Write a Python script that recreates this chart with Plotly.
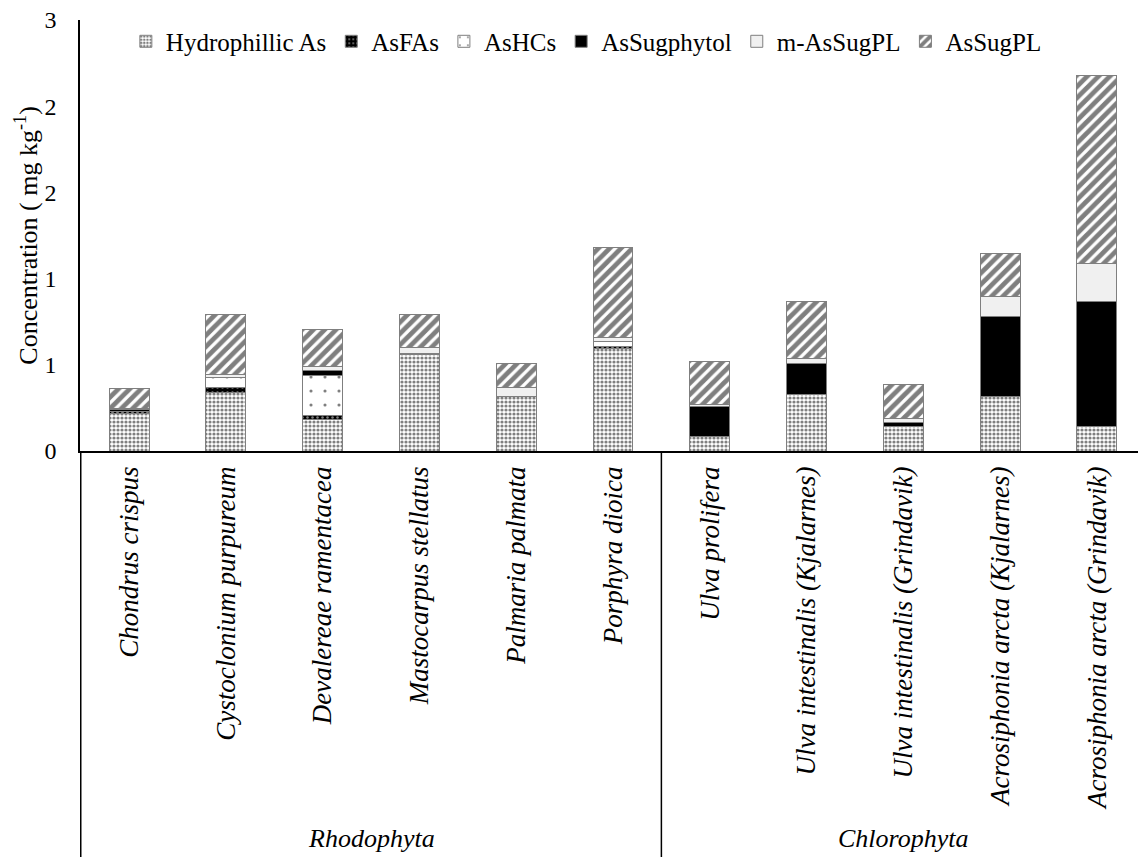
import plotly.graph_objects as go

# ---- data (mg kg-1) ----
categories = [
    "Chondrus crispus", "Cystoclonium purpureum", "Devalereae ramentacea",
    "Mastocarpus stellatus", "Palmaria palmata", "Porphyra dioica",
    "Ulva prolifera", "Ulva intestinalis (Kjalarnes)", "Ulva intestinalis (Grindavik)",
    "Acrosiphonia arcta (Kjalarnes)", "Acrosiphonia arcta (Grindavik)",
]
groups = ["Rhodophyta"] * 6 + ["Chlorophyta"] * 5

hydrophillic_as = [0.216, 0.338, 0.184, 0.561, 0.319, 0.596, 0.083, 0.329, 0.141, 0.315, 0.145]
as_fas          = [0.012, 0.033, 0.020, 0.005, 0.000, 0.008, 0.000, 0.000, 0.000, 0.000, 0.000]
as_hcs          = [0.000, 0.054, 0.232, 0.000, 0.000, 0.034, 0.000, 0.000, 0.000, 0.000, 0.000]
as_sugphytol    = [0.012, 0.000, 0.029, 0.000, 0.000, 0.000, 0.178, 0.178, 0.023, 0.464, 0.721]
m_as_sug_pl     = [0.005, 0.020, 0.023, 0.037, 0.048, 0.023, 0.010, 0.029, 0.025, 0.116, 0.220]
as_sug_pl       = [0.116, 0.344, 0.217, 0.186, 0.143, 0.522, 0.251, 0.329, 0.197, 0.251, 1.094]

y_tickvals = [0, 0.5, 1.0, 1.5, 2.0, 2.5]
y_ticktext = ["0", "1", "1", "2", "2", "3"]
y_title = "Concentration ( mg kg<sup>-1</sup>)"

FONT = "Times New Roman"
OUTLINE = dict(color="#7f7f7f", width=1)

series = [
    ("Hydrophillic As", hydrophillic_as, dict(color="white", pattern=dict(shape=".", fgcolor="black", bgcolor="white", size=4, solidity=0.5))),
    ("AsFAs", as_fas, dict(color="black", pattern=dict(shape=".", fgcolor="white", bgcolor="black", size=5, solidity=0.2))),
    ("AsHCs", as_hcs, dict(color="white", pattern=dict(shape=".", fgcolor="black", bgcolor="white", size=14, solidity=0.04))),
    ("AsSugphytol", as_sugphytol, dict(color="black")),
    ("m-AsSugPL", m_as_sug_pl, dict(color="#f0f0f0")),
    ("AsSugPL", as_sug_pl, dict(color="white", pattern=dict(shape="/", fgcolor="black", bgcolor="white", size=8, solidity=0.6))),
]

fig = go.Figure()
for name, vals, mk in series:
    marker = dict(mk)
    marker["line"] = OUTLINE
    fig.add_trace(go.Bar(name=name, x=categories, y=vals, marker=marker))

# group dividers and labels below the category axis
n = len(categories)
bounds = [-0.5]
for i in range(1, n):
    if groups[i] != groups[i - 1]:
        bounds.append(i - 0.5)
bounds.append(n - 0.5)

for b in bounds:
    fig.add_shape(type="line", xref="x", yref="paper", x0=b, x1=b, y0=0, y1=-0.945,
                  line=dict(color="black", width=1.5))

start = 0
for i in range(1, n + 1):
    if i == n or groups[i] != groups[start]:
        fig.add_annotation(x=(start + i - 1) / 2, y=-0.898, xref="x", yref="paper",
                           text=groups[start], showarrow=False, yanchor="middle",
                           font=dict(family=FONT, size=26, color="black", style="italic"))
        start = i

# y-axis title as a rotated annotation
fig.add_annotation(x=-0.0505, y=0.50, xref="paper", yref="paper", text=y_title,
                   textangle=-90, showarrow=False, xanchor="center", yanchor="middle",
                   font=dict(family=FONT, size=26, color="black"))

# the page body adds an 8px margin, so the figure is sized to fit the window
fig.update_layout(
    width=1138, height=849,
    margin=dict(l=72, r=0, t=12, b=406, autoexpand=False),
    paper_bgcolor="white", plot_bgcolor="white",
    barmode="stack", bargap=0.587,
    font=dict(family=FONT, color="black"),
    legend=dict(orientation="h", x=0.475, xanchor="center", y=0.95, yanchor="middle",
                font=dict(family=FONT, size=25, color="black"),
                bgcolor="rgba(0,0,0,0)", traceorder="normal", itemwidth=30),
    showlegend=True,
)
fig.update_xaxes(
    type="category", showline=True, linecolor="black", linewidth=1.5, automargin=False,
    showgrid=False, ticks="", tickangle=-90, ticklabelstandoff=3,
    tickfont=dict(family=FONT, size=27, color="black", style="italic"),
)
fig.update_yaxes(
    range=[0, 2.5], tickvals=y_tickvals, ticktext=y_ticktext, automargin=False,
    showline=True, linecolor="black", linewidth=1.5, showgrid=False,
    zeroline=False, ticks="", ticklabelstandoff=17, ticklabeloverflow="allow",
    tickfont=dict(family=FONT, size=24, color="black"),
)

fig.write_html("out.html")
